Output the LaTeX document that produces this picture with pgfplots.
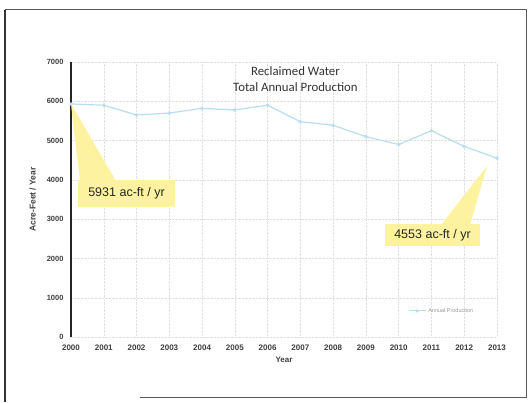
\documentclass[border=0pt]{standalone}
\usepackage{pgfplots}
\pgfplotsset{compat=1.18}
\usepackage{fontspec}
\setmainfont{Liberation Sans}
\newfontfamily\titlefont{Carlito}
\definecolor{lineblue}{RGB}{185,222,238}
\definecolor{callout}{RGB}{252,242,160}
\definecolor{gridc}{RGB}{225,225,225}
\begin{document}
\begin{tikzpicture}[x=1pt,y=1pt]
% page area 531 x 402 (pixel -> pt, y flipped)
\fill[white] (0,0) rectangle (531,402);
% outer frame
\draw[black!65, line width=1pt] (5,402-10) -- (526,402-10) -- (526,402-398);
\draw[black!65, line width=1pt] (140,402-398) -- (526,402-398);
\draw[black!80, line width=2pt] (5,402-10) -- (5,402-402);
\begin{axis}[
  at={(71pt,65pt)}, anchor=south west,
  scale only axis, width=426pt, height=275pt,
  xmin=2000, xmax=2013, ymin=0, ymax=7000,
  xtick={2000,...,2013}, ytick={0,1000,...,7000},
  xticklabel style={font=\fontsize{8}{9}\selectfont\bfseries, text=black!75, yshift=-4pt},
  yticklabel style={font=\fontsize{7.5}{9}\selectfont\bfseries, text=black!75, xshift=-4pt},
  /pgf/number format/assume math mode=true,
  /pgf/number format/1000 sep={},
  major tick length=0pt,
  axis x line*=bottom, axis y line*=left,
  x axis line style={draw=none},
  y axis line style={black!85, line width=1.1pt},
  grid=major, grid style={gridc, densely dotted, line width=0.4pt},
  xlabel={Year}, ylabel={Acre-Feet / Year},
  xlabel style={font=\fontsize{8}{9}\selectfont\bfseries, text=black!75, yshift=0pt},
  ylabel style={font=\fontsize{8.5}{9}\selectfont\bfseries, text=black!75, yshift=4pt},
  legend style={draw=none, fill=none, at={(0.87,0.095)}, anchor=center,
    font=\fontsize{5.5}{6}\selectfont, text=black!40},
  legend cell align=left,
  clip=false,
]
\addplot[lineblue, line width=1.2pt, mark=*, mark size=1.1pt] coordinates {
 (2000,5931) (2001,5900) (2002,5650) (2003,5700) (2004,5820) (2005,5780)
 (2006,5900) (2007,5480) (2008,5390) (2009,5100) (2010,4900) (2011,5250)
 (2012,4850) (2013,4553)
};
\addlegendentry{Annual Production}
\node[font=\titlefont\fontsize{12.8}{16}\selectfont, text=black!80, align=center]
  at (axis cs:2006.85,6560) {Reclaimed Water\\Total Annual Production};
\end{axis}
% callout 1
\fill[callout] (80,402-181) -- (71,402-104) -- (116,402-181) -- cycle;
\fill[callout] (78,402-180) rectangle (175,402-207);
\node[font=\fontsize{12.5}{14}\selectfont, text=black!85] at (126.5,402-193.5) {5931 ac-ft / yr};
% callout 2
\fill[callout] (441,402-225) -- (487,402-166) -- (470,402-225) -- cycle;
\fill[callout] (385,402-224) rectangle (480,402-246);
\node[font=\fontsize{12.5}{14}\selectfont, text=black!85] at (432.5,402-235) {4553 ac-ft / yr};
\end{tikzpicture}
\end{document}
